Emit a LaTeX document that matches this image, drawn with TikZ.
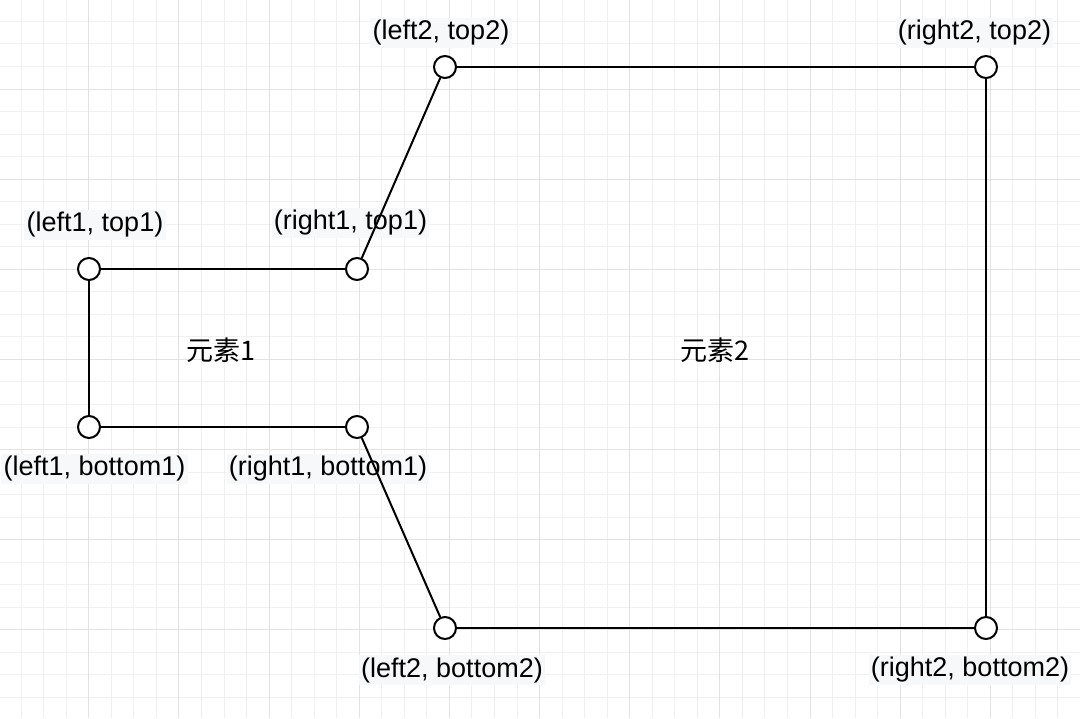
\documentclass[tikz,border=0pt]{standalone}
\usepackage{fontspec}
\setmainfont{Liberation Sans}
\newfontfamily\cjk{Noto Sans CJK SC}
\definecolor{minorgrid}{HTML}{F0F0F0}
\definecolor{majorgrid}{HTML}{E2E2E2}
\definecolor{labelbg}{HTML}{F7F8FA}
\tikzset{
  pt/.style={circle, draw=black, line width=1pt, fill=white, minimum size=11pt, inner sep=0pt},
  edge/.style={draw=black, line width=1pt},
  lbl/.style={fill=labelbg, inner sep=1.2pt, font=\fontsize{13.5}{16}\selectfont, text=black},
  title/.style={inner sep=1pt, font=\cjk\fontsize{13.5}{16}\selectfont, text=black}
}
\begin{document}
\begin{tikzpicture}[x=0.5pt, y=-0.5pt]
\useasboundingbox (0,0) rectangle (1080,718);
\fill[white] (0,0) rectangle (1080,718);
% grid
\foreach \i in {-4,...,44} {
  \pgfmathsetmacro{\gx}{88.8+22.5375*\i}
  \draw[minorgrid, line width=0.5pt] (\gx,0) -- (\gx,718);
}
\foreach \i in {-4,...,28} {
  \pgfmathsetmacro{\gy}{89+22.5375*\i}
  \draw[minorgrid, line width=0.5pt] (0,\gy) -- (1080,\gy);
}
\foreach \i in {-1,...,11} {
  \pgfmathsetmacro{\gx}{88.8+90.15*\i}
  \draw[majorgrid, line width=0.5pt] (\gx,0) -- (\gx,718);
}
\foreach \i in {-1,...,7} {
  \pgfmathsetmacro{\gy}{89+90.15*\i}
  \draw[majorgrid, line width=0.5pt] (0,\gy) -- (1080,\gy);
}
% labels
\node[lbl] (llt1) at (95,225) {(left1, top1)};
\node[lbl] (lrt1) at (350.5,223) {(right1, top1)};
\node[lbl] (llb1) at (94.5,469) {(left1, bottom1)};
\node[lbl] (lrb1) at (328,469) {(right1, bottom1)};
\node[lbl] (llt2) at (441,33) {(left2, top2)};
\node[lbl] (lrt2) at (974.5,33) {(right2, top2)};
\node[lbl] (llb2) at (452,670) {(left2, bottom2)};
\node[lbl] (lrb2) at (970,670) {(right2, bottom2)};
\node[title] (e1) at (221,350) {元素1};
\node[title] (e2) at (715,350) {元素2};
% points
\node[pt] (lt1) at (89,269) {};
\node[pt] (rt1) at (357,269) {};
\node[pt] (lb1) at (89,427) {};
\node[pt] (rb1) at (357,427) {};
\node[pt] (lt2) at (445,67) {};
\node[pt] (rt2) at (986,67) {};
\node[pt] (lb2) at (445,628) {};
\node[pt] (rb2) at (986,628) {};
% edges
\draw[edge] (lt1) -- (rt1);
\draw[edge] (rt1) -- (lt2);
\draw[edge] (lt2) -- (rt2);
\draw[edge] (rt2) -- (rb2);
\draw[edge] (rb2) -- (lb2);
\draw[edge] (lb2) -- (rb1);
\draw[edge] (rb1) -- (lb1);
\draw[edge] (lb1) -- (lt1);
\end{tikzpicture}
\end{document}
